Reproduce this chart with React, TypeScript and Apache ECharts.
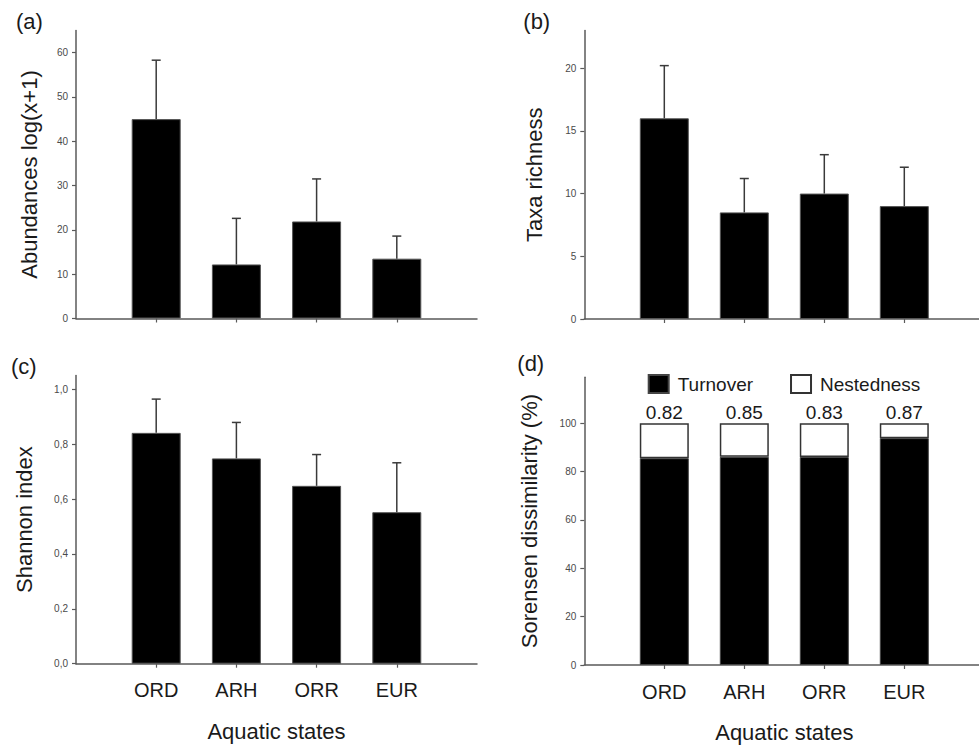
import React, { useEffect, useRef } from "react";
import * as echarts from "echarts";

const categories = ["ORD", "ARH", "ORR", "EUR"];
const axisCats = [" ", "ORD", "ARH", "ORR", "EUR", "  "];

const abundanceMean = [45.0, 12.2, 21.9, 13.5];
const abundanceUpper = [58.3, 22.6, 31.5, 18.6];
const richnessMean = [16.0, 8.5, 10.0, 9.0];
const richnessUpper = [20.2, 11.2, 13.1, 12.1];
const shannonMean = [0.841, 0.748, 0.648, 0.552];
const shannonUpper = [0.964, 0.879, 0.762, 0.732];
const turnover = [85.5, 86.1, 86.0, 93.8];
const nestedness = [14.5, 13.9, 14.0, 6.2];
const sorensenLabels = ["0.82", "0.85", "0.83", "0.87"];

const ticksA = [0, 10, 20, 30, 40, 50, 60];
const ticksB = [0, 5, 10, 15, 20];
const ticksC = [0, 0.2, 0.4, 0.6, 0.8, 1.0];
const ticksD = [0, 20, 40, 60, 80, 100];

const FONT = "'Liberation Sans', Arial, sans-serif";
const AXIS_COLOR = "#5a5a5a";

function makeX(gridIndex: number, showLabels: boolean, margin: number, nameGap: number) {
  return {
    type: "category",
    gridIndex,
    data: axisCats,
    boundaryGap: false,
    axisLine: { show: true, lineStyle: { color: AXIS_COLOR, width: 1.5 } },
    axisTick: {
      show: true,
      length: 4,
      inside: false,
      interval: (i: number) => i > 0 && i < axisCats.length - 1,
      lineStyle: { color: AXIS_COLOR, width: 1.2 },
    },
    axisLabel: {
      show: showLabels,
      interval: 0,
      margin,
      fontSize: 20,
      color: "#1a1a1a",
      fontFamily: FONT,
    },
    splitLine: { show: false },
    name: showLabels ? "Aquatic states" : "",
    nameLocation: "middle",
    nameGap,
    nameMoveOverlap: false,
    nameTextStyle: { fontSize: 22, color: "#1a1a1a", fontFamily: FONT },
  };
}

function makeY(
  gridIndex: number,
  max: number,
  ticks: number[],
  name: string,
  nameGap: number,
  formatter?: (v: number) => string
) {
  return {
    type: "value",
    gridIndex,
    min: 0,
    max,
    axisLine: { show: true, lineStyle: { color: AXIS_COLOR, width: 1.5 } },
    axisTick: {
      show: true,
      length: 4,
      customValues: ticks,
      lineStyle: { color: AXIS_COLOR, width: 1.2 },
    },
    axisLabel: {
      customValues: ticks,
      margin: 8,
      fontSize: 10,
      color: "#4a4a4a",
      fontFamily: FONT,
      formatter: formatter || ((v: number) => String(v)),
    },
    splitLine: { show: false },
    name,
    nameLocation: "middle",
    nameGap,
    nameMoveOverlap: false,
    nameTextStyle: { fontSize: 22, color: "#1a1a1a", fontFamily: FONT },
  };
}

function errorSeries(idx: number, means: number[], uppers: number[]) {
  return {
    type: "custom",
    xAxisIndex: idx,
    yAxisIndex: idx,
    z: 3,
    data: categories.map((c, i) => [c, means[i], uppers[i]]),
    encode: { x: 0, y: 1 },
    renderItem: (_params: any, api: any) => {
      const x = api.value(0);
      const base = api.coord([x, api.value(1)]);
      const top = api.coord([x, api.value(2)]);
      const st = { stroke: "#3a3a3a", lineWidth: 1.5 };
      return {
        type: "group",
        children: [
          { type: "line", shape: { x1: top[0], y1: base[1], x2: top[0], y2: top[1] }, style: st },
          { type: "line", shape: { x1: top[0] - 4.5, y1: top[1], x2: top[0] + 4.5, y2: top[1] }, style: st },
        ],
      };
    },
  };
}

function barSeries(idx: number, values: number[]) {
  return {
    type: "bar",
    xAxisIndex: idx,
    yAxisIndex: idx,
    barWidth: 49,
    data: categories.map((c, i) => [c, values[i]]),
    itemStyle: { color: "#000", borderColor: "#555", borderWidth: 1 },
  };
}

export default function App() {
  const ref = useRef<HTMLDivElement>(null);
  useEffect(() => {
    if (!ref.current) return;
    const chart = echarts.init(ref.current, undefined, { renderer: "svg" });
    const option: any = {
      animation: false,
      backgroundColor: "#ffffff",
      textStyle: { fontFamily: FONT },
      grid: [
        { left: 76, top: 30.5, width: 401, height: 288, outerBoundsMode: "none", containLabel: false },
        { left: 584.3, top: 30.5, width: 400, height: 288.5, outerBoundsMode: "none", containLabel: false },
        { left: 76, top: 375.5, width: 401, height: 288.2, outerBoundsMode: "none", containLabel: false },
        { left: 584.3, top: 377.2, width: 400, height: 287.8, outerBoundsMode: "none", containLabel: false },
      ],
      xAxis: [makeX(0, false, 16, 57), makeX(1, false, 16, 57), makeX(2, true, 16.5, 57), makeX(3, true, 17, 56.5)],
      yAxis: [
        makeY(0, 65, ticksA, "Abundances log(x+1)", 36),
        makeY(1, 23, ticksB, "Taxa richness", 39),
        makeY(2, 1.05, ticksC, "Shannon index", 41, (v: number) => v.toFixed(1).replace(".", ",")),
        makeY(3, 119, ticksD, "Sorensen dissimilarity (%)", 44),
      ],
      legend: {
        left: 642.7,
        top: 369,
        itemWidth: 20,
        itemHeight: 18,
        itemGap: 37,
        icon: "rect",
        selectedMode: false,
        data: ["Turnover", "Nestedness"],
        textStyle: { fontSize: 19, color: "#1a1a1a", fontFamily: FONT, padding: [0, 0, 0, 4] },
      },
      graphic: [
        { type: "text", left: 16, top: 10.5, style: { text: "(a)", fontSize: 22, fill: "#1a1a1a", fontFamily: FONT } },
        { type: "text", left: 523.3, top: 10.5, style: { text: "(b)", fontSize: 22, fill: "#1a1a1a", fontFamily: FONT } },
        { type: "text", left: 11, top: 355.7, style: { text: "(c)", fontSize: 22, fill: "#1a1a1a", fontFamily: FONT } },
        { type: "text", left: 517.3, top: 352.5, style: { text: "(d)", fontSize: 22, fill: "#1a1a1a", fontFamily: FONT } },
      ],
      series: [
        barSeries(0, abundanceMean),
        errorSeries(0, abundanceMean, abundanceUpper),
        barSeries(1, richnessMean),
        errorSeries(1, richnessMean, richnessUpper),
        barSeries(2, shannonMean),
        errorSeries(2, shannonMean, shannonUpper),
        {
          name: "Turnover",
          type: "bar",
          xAxisIndex: 3,
          yAxisIndex: 3,
          stack: "sor",
          barWidth: 49,
          data: categories.map((c, i) => [c, turnover[i]]),
          itemStyle: { color: "#000", borderColor: "#444", borderWidth: 1 },
        },
        {
          name: "Nestedness",
          type: "bar",
          xAxisIndex: 3,
          yAxisIndex: 3,
          stack: "sor",
          barWidth: 49,
          data: categories.map((c, i) => [c, nestedness[i]]),
          itemStyle: { color: "#fff", borderColor: "#333", borderWidth: 1.5 },
          label: {
            show: true,
            position: "top",
            distance: 1,
            fontSize: 19,
            color: "#1a1a1a",
            fontFamily: FONT,
            formatter: (p: any) => sorensenLabels[p.dataIndex],
          },
        },
      ],
    };
    chart.setOption(option);
    return () => chart.dispose();
  }, []);
  return (
    <div
      ref={ref}
      style={{ position: "fixed", left: 0, top: 0, width: 979, height: 745, background: "#fff" }}
    />
  );
}
